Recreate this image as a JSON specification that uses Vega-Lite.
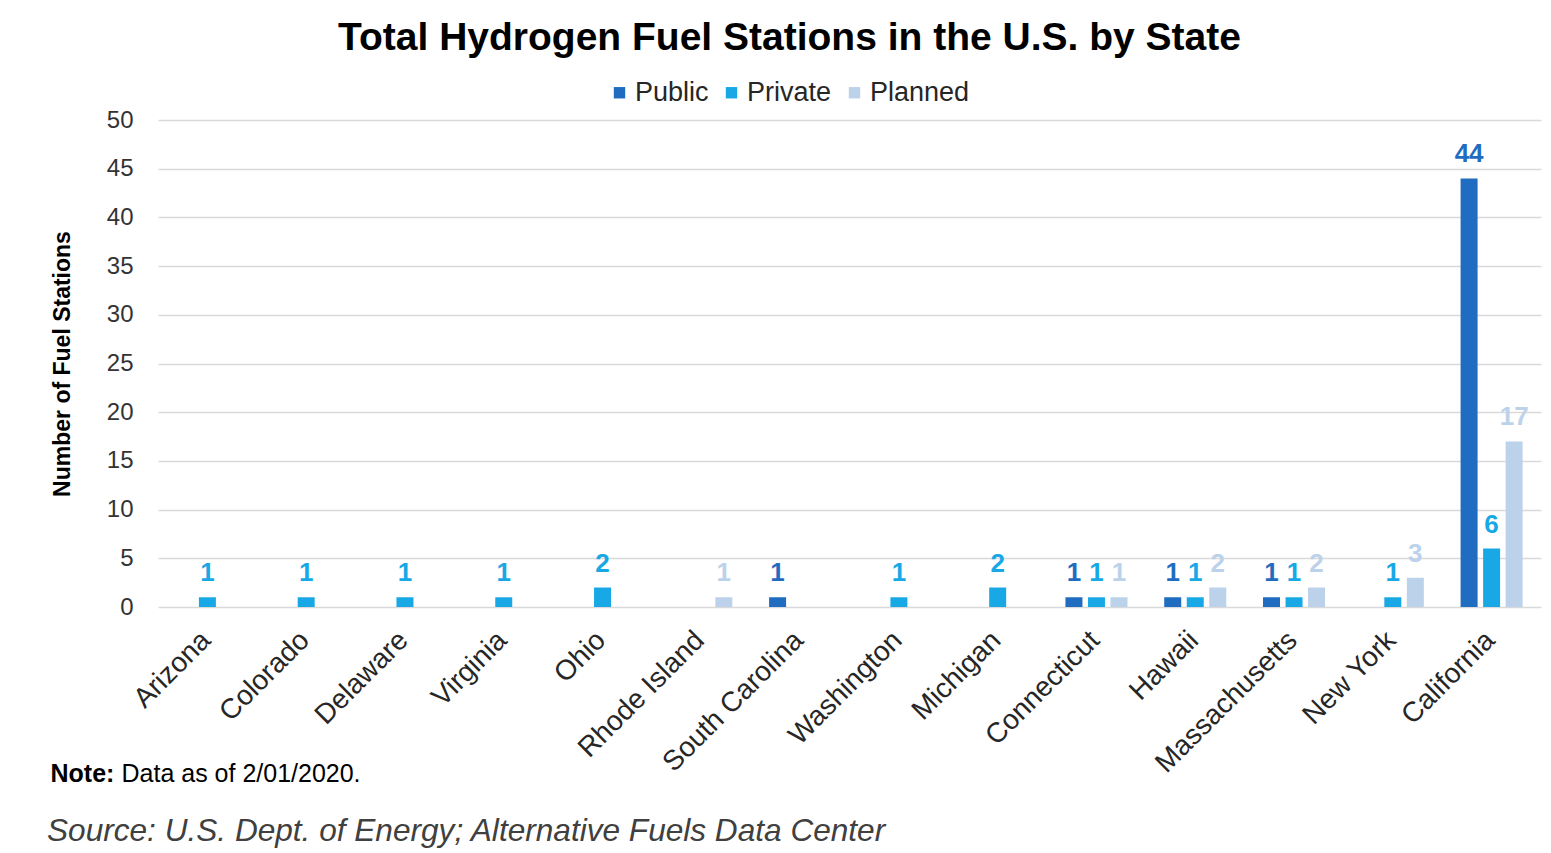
{
  "$schema": "https://vega.github.io/schema/vega-lite/v6.json",
  "background": "white",
  "padding": {"left": 47, "top": 19, "right": 10, "bottom": 10},
  "config": {
    "font": "Liberation Sans",
    "view": {"stroke": null},
    "concat": {"spacing": 0}
  },
  "title": {
    "text": "Source: U.S. Dept. of Energy; Alternative Fuels Data Center",
    "orient": "bottom",
    "anchor": "start",
    "fontStyle": "italic",
    "fontWeight": "normal",
    "fontSize": 31.6,
    "color": "#404040",
    "offset": 30,
    "dx": -3,
    "font": "Liberation Sans"
  },
  "vconcat": [
    {
      "title": {
        "text": "Total Hydrogen Fuel Stations in the U.S. by State",
        "fontSize": 39,
        "fontWeight": "bold",
        "color": "#000000",
        "anchor": "middle",
        "dx": -60,
        "offset": 50,
        "font": "Liberation Sans"
      },
      "width": 1383,
      "height": 487,
      "data": {
        "values": [
          {"state": "Arizona", "type": "Private", "count": 1},
          {"state": "Colorado", "type": "Private", "count": 1},
          {"state": "Delaware", "type": "Private", "count": 1},
          {"state": "Virginia", "type": "Private", "count": 1},
          {"state": "Ohio", "type": "Private", "count": 2},
          {"state": "Rhode Island", "type": "Planned", "count": 1},
          {"state": "South Carolina", "type": "Public", "count": 1},
          {"state": "Washington", "type": "Private", "count": 1},
          {"state": "Michigan", "type": "Private", "count": 2},
          {"state": "Connecticut", "type": "Public", "count": 1},
          {"state": "Connecticut", "type": "Private", "count": 1},
          {"state": "Connecticut", "type": "Planned", "count": 1},
          {"state": "Hawaii", "type": "Public", "count": 1},
          {"state": "Hawaii", "type": "Private", "count": 1},
          {"state": "Hawaii", "type": "Planned", "count": 2},
          {"state": "Massachusetts", "type": "Public", "count": 1},
          {"state": "Massachusetts", "type": "Private", "count": 1},
          {"state": "Massachusetts", "type": "Planned", "count": 2},
          {"state": "New York", "type": "Private", "count": 1},
          {"state": "New York", "type": "Planned", "count": 3},
          {"state": "California", "type": "Public", "count": 44},
          {"state": "California", "type": "Private", "count": 6},
          {"state": "California", "type": "Planned", "count": 17}
        ]
      },
      "resolve": {"axis": {"x": "independent"}},
      "layer": [
        {
          "mark": {"type": "bar"},
          "encoding": {
            "x": {
              "field": "state",
              "type": "nominal",
              "sort": ["Arizona", "Colorado", "Delaware", "Virginia", "Ohio", "Rhode Island", "South Carolina", "Washington", "Michigan", "Connecticut", "Hawaii", "Massachusetts", "New York", "California"],
              "scale": {"paddingInner": 0.372, "paddingOuter": 0.186},
              "axis": {
                "orient": "bottom",
                "title": "Note:",
                "titleFontSize": 25,
                "titleFontWeight": "bold",
                "titleColor": "#000000",
                "titleX": -108,
                "titleY": 166,
                "titleAlign": "left",
                "titleAnchor": "start",
                "titleBaseline": "middle",
                "labelAngle": -45,
                "labelAlign": "right",
                "labelBaseline": "top",
                "labelFontSize": 28,
                "labelColor": "#262626",
                "labelPadding": 19,
                "labelOffset": -11,
                "labelLimit": 0,
                "ticks": false,
                "domain": false,
                "grid": false
              }
            },
            "xOffset": {
              "field": "type",
              "type": "nominal",
              "scale": {"domain": ["Public", "Private", "Planned"], "paddingInner": 0.245, "paddingOuter": 0}
            },
            "y": {
              "field": "count",
              "type": "quantitative",
              "scale": {"domain": [0, 50], "nice": false},
              "axis": {
                "title": "Number of Fuel Stations",
                "titleFontSize": 23,
                "titleFontWeight": "bold",
                "titleColor": "#000000",
                "titlePadding": 32,
                "values": [0, 5, 10, 15, 20, 25, 30, 35, 40, 45, 50],
                "labelFontSize": 24,
                "labelColor": "#333333",
                "labelPadding": 25,
                "ticks": false,
                "domain": false,
                "gridColor": "#D9D9D9",
                "gridWidth": 1.5
              }
            },
            "color": {
              "field": "type",
              "type": "nominal",
              "scale": {"domain": ["Public", "Private", "Planned"], "range": ["#1F6CC0", "#19A8E6", "#BCD2EA"]},
              "legend": {
                "orient": "none",
                "legendX": 448,
                "legendY": -41,
                "direction": "horizontal",
                "title": null,
                "symbolType": "square",
                "symbolSize": 130,
                "symbolStrokeWidth": 0,
                "labelFontSize": 27,
                "labelColor": "#262626",
                "labelOffset": 2,
                "columnPadding": 9
              }
            }
          }
        },
        {
          "mark": {"type": "text", "fontSize": 26, "fontWeight": "bold", "baseline": "alphabetic", "dy": -16},
          "encoding": {
            "x": {
              "field": "state",
              "type": "nominal",
              "sort": ["Arizona", "Colorado", "Delaware", "Virginia", "Ohio", "Rhode Island", "South Carolina", "Washington", "Michigan", "Connecticut", "Hawaii", "Massachusetts", "New York", "California"],
              "axis": {
                "orient": "bottom",
                "title": "Data as of 2/01/2020.",
                "titleFontSize": 25,
                "titleFontWeight": "normal",
                "titleColor": "#000000",
                "titleX": -37,
                "titleY": 166,
                "titleAlign": "left",
                "titleAnchor": "start",
                "titleBaseline": "middle",
                "labels": false,
                "ticks": false,
                "domain": false,
                "grid": false
              }
            },
            "xOffset": {"field": "type", "type": "nominal"},
            "y": {"field": "count", "type": "quantitative"},
            "text": {"field": "count", "type": "quantitative"},
            "color": {"field": "type", "type": "nominal"}
          }
        }
      ]
    }
  ]
}
